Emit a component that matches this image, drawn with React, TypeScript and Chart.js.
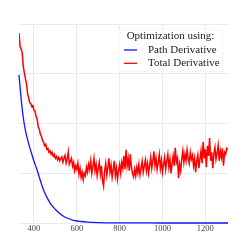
import React, { useEffect, useRef } from "react";
import { Chart, registerables } from "chart.js";

Chart.register(...registerables);

const xTicks = [400, 600, 800, 1000, 1200];
const yTicks = [0, 1, 2, 3, 4];
const xMin = 330;
const xMax = 1306;

const seriesLabels = ["Path Derivative", "Total Derivative"];
const legendTitle = "Optimization using:";

// Path Derivative (smooth decay)
const pathX = [330, 340, 350, 360, 370, 380, 390, 400, 410, 420, 430, 440, 450, 460, 470, 480, 490, 500, 520, 540, 560, 580, 600, 620, 650, 700, 750, 800, 900, 1000, 1306];
const pathY = [2.98, 2.5, 2.12, 1.86, 1.68, 1.52, 1.38, 1.24, 1.12, 0.99, 0.85, 0.72, 0.61, 0.52, 0.44, 0.37, 0.32, 0.27, 0.19, 0.13, 0.09, 0.06, 0.04, 0.03, 0.018, 0.008, 0.004, 0.002, 0.001, 0, 0];

// Total Derivative (noisy), sampled every 5 iterations starting at 330
const totalStart = 330;
const totalStep = 5;
const totalY = [
  3.82, 3.55, 3.50, 3.42, 3.15, 3.02, 2.90, 2.80, 2.60, 2.52,
  2.42, 2.40, 2.34, 2.36, 2.27, 2.24, 2.14, 2.08, 1.93, 1.88,
  1.78, 1.74, 1.66, 1.62, 1.55, 1.58, 1.48, 1.50, 1.42, 1.45,
  1.38, 1.42, 1.34, 1.38, 1.30, 1.34, 1.27, 1.32, 1.25, 1.30,
  1.33, 1.22, 1.30, 1.36, 1.20, 1.28, 1.43, 1.18, 1.24, 1.30,
  1.14, 1.22, 1.05, 1.15, 1.08, 1.20, 0.98, 1.10, 0.92, 1.02,
  0.87, 1.00, 0.95, 1.12, 1.02, 1.18, 1.08, 1.25, 1.00, 1.14,
  1.30, 1.05, 1.18, 0.95, 1.10, 1.22, 0.98, 1.15, 0.85, 0.74,
  1.05, 1.20, 0.96, 1.12, 1.30, 1.02, 1.16, 0.92, 1.08, 1.25,
  0.95, 1.10, 0.88, 1.05, 1.18, 1.00, 1.22, 1.10, 1.35, 1.08,
  1.47, 1.15, 1.30, 1.05, 1.38, 1.12, 1.00, 0.93, 1.08, 0.95,
  1.12, 1.00, 1.18, 0.97, 1.10, 1.24, 1.02, 1.15, 1.27, 1.05,
  1.20, 1.00, 1.15, 1.32, 1.10, 1.25, 1.44, 1.15, 1.30, 1.08,
  1.22, 1.38, 1.10, 1.26, 1.02, 1.18, 1.32, 1.08, 1.25, 1.38,
  1.12, 1.28, 1.00, 1.20, 1.35, 1.15, 1.51, 1.22, 1.30, 0.90,
  1.18, 1.05, 1.28, 1.45, 1.22, 1.38, 1.25, 1.47, 1.30, 1.20,
  1.42, 1.28, 1.36, 1.15, 1.30, 1.02, 1.25, 1.37, 1.10, 1.28,
  1.45, 1.20, 1.63, 1.30, 1.48, 1.12, 1.55, 1.35, 1.71, 1.25,
  1.42, 1.10, 1.38, 1.52, 1.28, 1.40, 1.56, 1.25, 1.45, 1.32,
  1.50, 1.15, 1.42, 1.38, 1.50, 1.47,
];

const FONT = "'Liberation Serif', 'DejaVu Serif', serif";

const legendPlugin = {
  id: "boxLegend",
  afterDraw(chart: any) {
    const ctx = chart.ctx;
    const area = chart.chartArea;
    const boxRight = area.right - 5;
    const boxLeft = boxRight - 105;
    const boxTop = area.top + 5;
    const boxH = 43;
    ctx.save();
    ctx.fillStyle = "rgba(255,255,255,0.85)";
    ctx.fillRect(boxLeft, boxTop, boxRight - boxLeft, boxH);
    ctx.strokeStyle = "rgba(0,0,0,0.04)";
    ctx.lineWidth = 1;
    ctx.strokeRect(boxLeft + 0.5, boxTop + 0.5, boxRight - boxLeft - 1, boxH - 1);
    ctx.font = `11px ${FONT}`;
    ctx.fillStyle = "#222";
    ctx.textBaseline = "middle";
    ctx.textAlign = "center";
    ctx.fillText(legendTitle, boxLeft + 52.5, boxTop + 7.5);
    ctx.textAlign = "left";
    chart.data.datasets.forEach((ds: any, i: number) => {
      const y = boxTop + 21 + i * 13.3;
      ctx.strokeStyle = ds.borderColor;
      ctx.lineWidth = 1.3;
      ctx.beginPath();
      ctx.moveTo(boxLeft + 6, y);
      ctx.lineTo(boxLeft + 19, y);
      ctx.stroke();
      ctx.fillStyle = "#222";
      ctx.fillText(ds.label, boxLeft + 30, y);
    });
    ctx.restore();
  },
};

export default function App() {
  const ref = useRef<HTMLCanvasElement | null>(null);
  useEffect(() => {
    if (!ref.current) return;
    const pathData = pathX.map((x, i) => ({ x, y: pathY[i] }));
    const totalData = totalY.map((y, i) => ({ x: totalStart + i * totalStep, y }));
    const chart = new Chart(ref.current, {
      type: "line",
      data: {
        datasets: [
          {
            label: seriesLabels[0],
            data: pathData,
            borderColor: "rgb(20,20,255)",
            borderWidth: 1.3,
            pointRadius: 0,
            cubicInterpolationMode: "monotone",
            clip: false as any,
          },
          {
            label: seriesLabels[1],
            data: totalData,
            borderColor: "rgb(255,0,0)",
            borderWidth: 1.5,
            pointRadius: 0,
            tension: 0,
          },
        ],
      },
      options: {
        animation: false,
        responsive: false,
        layout: { padding: { left: 19, top: 24, right: 12, bottom: 0 } },
        plugins: { legend: { display: false }, tooltip: { enabled: false } },
        scales: {
          x: {
            type: "linear",
            min: xMin,
            max: xMax,
            afterBuildTicks: (s: any) => {
              s.ticks = xTicks.map((v) => ({ value: v }));
            },
            afterFit: (s: any) => {
              s.height = 17;
            },
            grid: { color: "#ebebeb", lineWidth: 1, drawTicks: false },
            border: { display: false },
            ticks: {
              padding: 1,
              color: "#444",
              font: { family: FONT, size: 8.5 },
              maxRotation: 0,
              callback: (v: any) => String(v),
            },
          },
          y: {
            type: "linear",
            min: 0,
            max: 4,
            afterBuildTicks: (s: any) => {
              s.ticks = yTicks.map((v) => ({ value: v }));
            },
            afterFit: (s: any) => {
              s.width = 0;
            },
            grid: { color: "#ebebeb", lineWidth: 1, drawTicks: false },
            border: { display: false },
            ticks: { display: false },
          },
        },
      },
      plugins: [legendPlugin],
    } as any);
    return () => chart.destroy();
  }, []);
  return (
    <div style={{ position: "absolute", left: 0, top: 0, width: 240, height: 240, background: "#fff" }}>
      <canvas ref={ref} width={240} height={240} />
    </div>
  );
}
